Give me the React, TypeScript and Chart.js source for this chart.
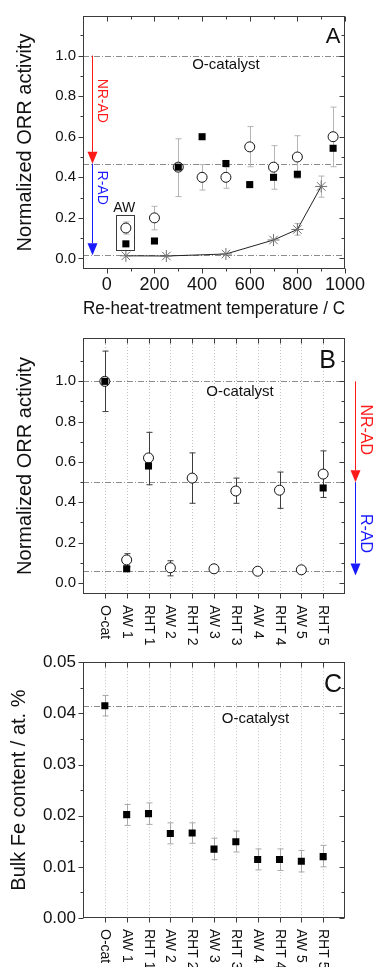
import React, { useEffect, useRef } from 'react';
import { Chart, registerables } from 'chart.js';

Chart.register(...registerables);

const FONT = "'Liberation Sans', Arial, Helvetica, sans-serif";
const INK = '#111';
const FRAME = '#3a3a3a';

// ---- Panel A: activity vs. re-heat-treatment temperature ----
const TEMP_OPEN = [80, 200, 300, 400, 500, 600, 700, 800, 950];
const ORR_OPEN = [0.15, 0.2, 0.45, 0.4, 0.4, 0.55, 0.45, 0.5, 0.6];
const ORR_OPEN_LOW = [0.12, 0.141, 0.305, 0.337, 0.346, 0.452, 0.341, 0.395, 0.452];
const ORR_OPEN_HIGH = [0.18, 0.257, 0.59, 0.463, 0.45, 0.65, 0.556, 0.605, 0.746];
const TEMP_FILLED = [80, 200, 300, 400, 500, 600, 700, 800, 950];
const ORR_FILLED = [0.072, 0.086, 0.45, 0.6, 0.468, 0.364, 0.4, 0.415, 0.543];
const TEMP_STAR = [80, 250, 500, 700, 800, 900];
const ORR_STAR = [0.013, 0.012, 0.022, 0.091, 0.143, 0.355];
const ORR_STAR_LOW = [null, null, null, null, 0.115, 0.302];
const ORR_STAR_HIGH = [null, null, null, null, 0.172, 0.406];
const A_REF_LEVELS = [1.0, 0.467, 0.015];
const A_X_MAJOR = [0, 200, 400, 600, 800, 1000];
const A_X_MINOR = [100, 300, 500, 700, 900];
const A_Y_MAJOR = [0, 0.2, 0.4, 0.6, 0.8, 1.0];
const A_Y_MINOR = [0.1, 0.3, 0.5, 0.7, 0.9, 1.1];

// ---- Panel B: activity per sample ----
const SAMPLES = ['O-cat', 'AW 1', 'RHT 1', 'AW 2', 'RHT 2', 'AW 3', 'RHT 3', 'AW 4', 'RHT 4', 'AW 5', 'RHT 5'];
const ORR_B_OPEN = [1.0, 0.114, 0.62, 0.075, 0.52, 0.07, 0.456, 0.058, 0.46, 0.065, 0.54];
const ORR_B_OPEN_LOW = [0.85, 0.08, 0.487, 0.035, 0.395, 0.062, 0.395, 0.052, 0.37, 0.057, 0.424];
const ORR_B_OPEN_HIGH = [1.15, 0.145, 0.747, 0.11, 0.645, 0.078, 0.52, 0.064, 0.55, 0.073, 0.655];
const ORR_B_FILLED = [1.0, 0.07, 0.58, null, null, null, null, null, null, null, 0.471];
const B_REF_LEVELS = [1.0, 0.5, 0.057];

// ---- Panel C: bulk Fe content per sample ----
const FE_CONTENT = [0.0415, 0.0202, 0.0204, 0.0165, 0.0166, 0.01346, 0.0149, 0.01145, 0.01145, 0.0111, 0.012];
const FE_LOW = [0.0395, 0.0181, 0.0183, 0.0145, 0.0146, 0.0114, 0.0129, 0.0094, 0.0093, 0.009, 0.01];
const FE_HIGH = [0.0435, 0.0222, 0.0225, 0.0186, 0.0186, 0.0156, 0.017, 0.0135, 0.0135, 0.0132, 0.0142];
const C_REF_LEVELS = [0.0415];
const C_Y_MAJOR = [0, 0.01, 0.02, 0.03, 0.04, 0.05];
const C_Y_MINOR = [0.005, 0.015, 0.025, 0.035, 0.045];

const ORR_Y_MAJOR = A_Y_MAJOR;
const ORR_Y_MINOR = A_Y_MINOR;
const SAMPLE_IDX = SAMPLES.map((_, i) => i);

type TextItem = { text: string; x: number; y: number; size: number; color?: string; rotate?: boolean };
type ArrowItem = { x: number; from: number; to: number; color: string };
type Decor = {
  xMajor: number[];
  xMinor: number[];
  xLabels?: number[];
  yMajor: number[];
  yMinor: number[];
  refLines: number[];
  gridX?: number[];
  catLabels?: string[];
  texts: TextItem[];
  arrows: ArrowItem[];
  box?: { x0: number; x1: number; y0: number; y1: number };
};

function makeDecor(cfg: Decor) {
  return {
    id: 'panelDecor',
    beforeDatasetsDraw(chart: any) {
      const { ctx, chartArea: a, scales } = chart;
      const xs = scales.x;
      const ys = scales.y;
      ctx.save();
      if (cfg.gridX) {
        ctx.strokeStyle = '#c4c4c4';
        ctx.lineWidth = 1;
        ctx.setLineDash([1, 2]);
        cfg.gridX.forEach((v) => {
          const px = Math.round(xs.getPixelForValue(v)) + 0.5;
          ctx.beginPath();
          ctx.moveTo(px, a.top);
          ctx.lineTo(px, a.bottom);
          ctx.stroke();
        });
      }
      ctx.strokeStyle = '#8c8c8c';
      ctx.lineWidth = 1;
      ctx.setLineDash([6, 2, 1, 2]);
      cfg.refLines.forEach((v) => {
        const py = Math.round(ys.getPixelForValue(v)) + 0.5;
        ctx.beginPath();
        ctx.moveTo(a.left, py);
        ctx.lineTo(a.right, py);
        ctx.stroke();
      });
      ctx.setLineDash([]);
      chart.data.datasets.forEach((ds: any) => {
        if (!ds.errLow) return;
        ctx.strokeStyle = ds.errColor;
        ctx.lineWidth = 1;
        ds.data.forEach((p: any, i: number) => {
          const lo = ds.errLow[i];
          const hi = ds.errHigh[i];
          if (lo == null || hi == null) return;
          const px = Math.round(xs.getPixelForValue(p.x)) + 0.5;
          const pl = ys.getPixelForValue(lo);
          const ph = ys.getPixelForValue(hi);
          ctx.beginPath();
          ctx.moveTo(px, pl);
          ctx.lineTo(px, ph);
          ctx.moveTo(px - 3, pl);
          ctx.lineTo(px + 3, pl);
          ctx.moveTo(px - 3, ph);
          ctx.lineTo(px + 3, ph);
          ctx.stroke();
        });
      });
      ctx.restore();
    },
    afterDraw(chart: any) {
      const { ctx, chartArea: a, scales } = chart;
      const xs = scales.x;
      const ys = scales.y;
      ctx.save();
      // frame
      ctx.strokeStyle = FRAME;
      ctx.lineWidth = 1;
      const L = Math.round(a.left) + 0.5;
      const R = Math.round(a.right) - 0.5;
      const T = Math.round(a.top) + 0.5;
      const B = Math.round(a.bottom) - 0.5;
      ctx.strokeRect(L, T, R - L, B - T);
      // ticks: left/bottom outward, top/right inward
      const tick = (vals: number[], len: number) => {
        vals.forEach((v) => {
          const px = Math.round(xs.getPixelForValue(v)) + 0.5;
          ctx.beginPath();
          ctx.moveTo(px, B);
          ctx.lineTo(px, B + len);
          ctx.moveTo(px, T);
          ctx.lineTo(px, T + len);
          ctx.stroke();
        });
      };
      const tickY = (vals: number[], len: number) => {
        vals.forEach((v) => {
          const py = Math.round(ys.getPixelForValue(v)) + 0.5;
          ctx.beginPath();
          ctx.moveTo(L, py);
          ctx.lineTo(L - len, py);
          ctx.moveTo(R, py);
          ctx.lineTo(R - len, py);
          ctx.stroke();
        });
      };
      tick(cfg.xMajor, 5);
      tick(cfg.xMinor, 3);
      tickY(cfg.yMajor, 5);
      tickY(cfg.yMinor, 3);

      // numeric x labels
      if (cfg.xLabels) {
        ctx.fillStyle = INK;
        ctx.font = `18px ${FONT}`;
        ctx.textAlign = 'center';
        ctx.textBaseline = 'top';
        cfg.xLabels.forEach((v) => {
          ctx.fillText(String(v), xs.getPixelForValue(v), a.bottom + 7);
        });
      }

      // arrows
      cfg.arrows.forEach((ar) => {
        const px = Math.round(xs.getPixelForValue(ar.x)) + 0.5;
        const p0 = ys.getPixelForValue(ar.from);
        const p1 = ys.getPixelForValue(ar.to);
        const headH = 12;
        const headW = 10;
        ctx.strokeStyle = ar.color;
        ctx.fillStyle = ar.color;
        ctx.lineWidth = 1;
        ctx.beginPath();
        ctx.moveTo(px, p0);
        ctx.lineTo(px, p1 - headH);
        ctx.stroke();
        ctx.beginPath();
        ctx.moveTo(px - headW / 2, p1 - headH);
        ctx.lineTo(px + headW / 2, p1 - headH);
        ctx.lineTo(px, p1);
        ctx.closePath();
        ctx.fill();
      });

      // framed group
      if (cfg.box) {
        const bx0 = Math.round(xs.getPixelForValue(cfg.box.x0)) + 0.5;
        const bx1 = Math.round(xs.getPixelForValue(cfg.box.x1)) + 0.5;
        const by0 = Math.round(ys.getPixelForValue(cfg.box.y0)) + 0.5;
        const by1 = Math.round(ys.getPixelForValue(cfg.box.y1)) + 0.5;
        ctx.strokeStyle = FRAME;
        ctx.strokeRect(bx0, by1, bx1 - bx0, by0 - by1);
      }

      // annotations
      cfg.texts.forEach((t) => {
        const px = xs.getPixelForValue(t.x);
        const py = ys.getPixelForValue(t.y);
        ctx.fillStyle = t.color || INK;
        ctx.font = `${t.size}px ${FONT}`;
        ctx.textAlign = 'center';
        ctx.textBaseline = 'middle';
        ctx.save();
        ctx.translate(px, py);
        if (t.rotate) ctx.rotate(Math.PI / 2);
        ctx.fillText(t.text, 0, 0);
        ctx.restore();
      });

      // rotated category labels
      if (cfg.catLabels) {
        ctx.fillStyle = INK;
        ctx.font = `14px ${FONT}`;
        ctx.textAlign = 'left';
        ctx.textBaseline = 'middle';
        cfg.catLabels.forEach((lab, i) => {
          const px = xs.getPixelForValue(i);
          ctx.save();
          ctx.translate(px, a.bottom + 11);
          ctx.rotate(Math.PI / 2);
          ctx.fillText(lab, 0, 0);
          ctx.restore();
        });
      }
      ctx.restore();
    },
  };
}

function baseOptions(opts: {
  xMin: number;
  xMax: number;
  yMin: number;
  yMax: number;
  padTop: number;
  padRight: number;
  xHeight: number;
  xTitle: string | null;
  yTicks: number[];
  yDigits: number;
  yFont: number;
  yTitle: string;
  yTitlePad: number;
}) {
  return {
    responsive: false,
    maintainAspectRatio: false,
    animation: false,
    events: [],
    layout: { padding: { top: opts.padTop, right: opts.padRight, left: 0, bottom: 0 } },
    plugins: { legend: { display: false }, tooltip: { enabled: false } },
    scales: {
      x: {
        type: 'linear',
        position: 'bottom',
        min: opts.xMin,
        max: opts.xMax,
        grid: { display: false, drawTicks: false },
        border: { display: false },
        afterFit: (s: any) => {
          s.height = opts.xHeight;
        },
        ticks: { display: false },
        title: {
          display: !!opts.xTitle,
          text: opts.xTitle || '',
          color: INK,
          font: { family: FONT, size: 18 },
          padding: { top: 0, bottom: 2 },
        },
      },
      y: {
        type: 'linear',
        min: opts.yMin,
        max: opts.yMax,
        grid: { display: false, drawTicks: false },
        border: { display: false },
        afterBuildTicks: (s: any) => {
          s.ticks = opts.yTicks.map((v) => ({ value: v }));
        },
        afterFit: (s: any) => {
          s.width = 83;
        },
        ticks: {
          padding: 7,
          color: INK,
          font: { family: FONT, size: opts.yFont },
          callback: (v: any) => Number(v).toFixed(opts.yDigits),
        },
        title: {
          display: true,
          text: opts.yTitle,
          color: INK,
          font: { family: FONT, size: 20 },
          padding: { top: opts.yTitlePad, bottom: 0 },
        },
      },
    },
  };
}

const pts = (xs: number[], ys: (number | null)[]) =>
  xs.map((x, i) => ({ x, y: ys[i] })).filter((p) => p.y != null);

function configA(): any {
  return {
    type: 'scatter',
    data: {
      datasets: [
        {
          label: 'filled',
          data: pts(TEMP_FILLED, ORR_FILLED),
          pointStyle: 'rect',
          pointRadius: 5,
          pointBackgroundColor: '#000',
          pointBorderColor: '#000',
          pointBorderWidth: 0,
          showLine: false,
        },
        {
          label: 'open',
          data: pts(TEMP_OPEN, ORR_OPEN),
          pointStyle: 'circle',
          pointRadius: 5,
          pointBackgroundColor: '#fff',
          pointBorderColor: '#111',
          pointBorderWidth: 1,
          showLine: false,
          errLow: ORR_OPEN_LOW,
          errHigh: ORR_OPEN_HIGH,
          errColor: '#b4b4b4',
        },
        {
          label: 'star',
          data: pts(TEMP_STAR, ORR_STAR),
          showLine: true,
          borderColor: '#222',
          borderWidth: 1,
          pointStyle: 'star',
          pointRadius: 6,
          pointBorderColor: '#6e6e6e',
          pointBackgroundColor: '#6e6e6e',
          pointBorderWidth: 1,
          errLow: ORR_STAR_LOW,
          errHigh: ORR_STAR_HIGH,
          errColor: '#b4b4b4',
        },
      ],
    },
    options: baseOptions({
      xMin: -100,
      xMax: 1000,
      yMin: -0.052,
      yMax: 1.195,
      padTop: 13,
      padRight: 30,
      xHeight: 53,
      xTitle: 'Re-heat-treatment temperature / C',
      yTicks: A_Y_MAJOR,
      yDigits: 1,
      yFont: 15,
      yTitle: 'Normalized ORR activity',
      yTitlePad: 13,
    }),
    plugins: [
      makeDecor({
        xMajor: A_X_MAJOR,
        xMinor: A_X_MINOR,
        xLabels: A_X_MAJOR,
        yMajor: A_Y_MAJOR,
        yMinor: A_Y_MINOR,
        refLines: A_REF_LEVELS,
        texts: [
          { text: 'O-catalyst', x: 500, y: 0.953, size: 15 },
          { text: 'A', x: 950, y: 1.09, size: 22 },
          { text: 'NR-AD', x: -22, y: 0.777, size: 14, color: '#ff1a1a', rotate: true },
          { text: 'R-AD', x: -22, y: 0.349, size: 14, color: '#1a1aff', rotate: true },
          { text: 'AW', x: 73, y: 0.25, size: 14 },
        ],
        arrows: [
          { x: -62, from: 1.0, to: 0.467, color: '#ff1a1a' },
          { x: -62, from: 0.467, to: 0.016, color: '#1a1aff' },
        ],
        box: { x0: 36.5, x1: 114.7, y0: 0.044, y1: 0.216 },
      }),
    ],
  };
}

function configB(): any {
  return {
    type: 'scatter',
    data: {
      datasets: [
        {
          label: 'filled',
          data: pts(SAMPLE_IDX, ORR_B_FILLED),
          pointStyle: 'rect',
          pointRadius: 5,
          pointBackgroundColor: '#000',
          pointBorderColor: '#000',
          pointBorderWidth: 0,
          showLine: false,
        },
        {
          label: 'open',
          data: pts(SAMPLE_IDX, ORR_B_OPEN),
          pointStyle: 'circle',
          pointRadius: 5,
          pointBackgroundColor: '#fff',
          pointBorderColor: '#111',
          pointBorderWidth: 1,
          showLine: false,
          errLow: ORR_B_OPEN_LOW,
          errHigh: ORR_B_OPEN_HIGH,
          errColor: '#3c3c3c',
        },
      ],
    },
    options: baseOptions({
      xMin: -1,
      xMax: 11,
      yMin: -0.055,
      yMax: 1.215,
      padTop: 11,
      padRight: 30,
      xHeight: 58,
      xTitle: null,
      yTicks: ORR_Y_MAJOR,
      yDigits: 1,
      yFont: 15,
      yTitle: 'Normalized ORR activity',
      yTitlePad: 13,
    }),
    plugins: [
      makeDecor({
        xMajor: SAMPLE_IDX,
        xMinor: [],
        yMajor: ORR_Y_MAJOR,
        yMinor: ORR_Y_MINOR,
        refLines: B_REF_LEVELS,
        gridX: SAMPLE_IDX,
        catLabels: SAMPLES,
        texts: [
          { text: 'O-catalyst', x: 6.19, y: 0.947, size: 15 },
          { text: 'B', x: 10.2, y: 1.1, size: 25 },
          { text: 'NR-AD', x: 11.92, y: 0.76, size: 16, color: '#ff1a1a', rotate: true },
          { text: 'R-AD', x: 11.92, y: 0.245, size: 16, color: '#1a1aff', rotate: true },
        ],
        arrows: [
          { x: 11.46, from: 1.0, to: 0.5, color: '#ff1a1a' },
          { x: 11.46, from: 0.5, to: 0.037, color: '#1a1aff' },
        ],
      }),
    ],
  };
}

function configC(): any {
  return {
    type: 'scatter',
    data: {
      datasets: [
        {
          label: 'fe',
          data: pts(SAMPLE_IDX, FE_CONTENT),
          pointStyle: 'rect',
          pointRadius: 5,
          pointBackgroundColor: '#000',
          pointBorderColor: '#000',
          pointBorderWidth: 0,
          showLine: false,
          errLow: FE_LOW,
          errHigh: FE_HIGH,
          errColor: '#a8a8a8',
        },
      ],
    },
    options: baseOptions({
      xMin: -1,
      xMax: 11,
      yMin: 0,
      yMax: 0.05,
      padTop: 15,
      padRight: 30,
      xHeight: 49,
      xTitle: null,
      yTicks: C_Y_MAJOR,
      yDigits: 2,
      yFont: 17,
      yTitle: 'Bulk Fe content / at. %',
      yTitlePad: 7,
    }),
    plugins: [
      makeDecor({
        xMajor: SAMPLE_IDX,
        xMinor: [],
        yMajor: C_Y_MAJOR,
        yMinor: C_Y_MINOR,
        refLines: C_REF_LEVELS,
        gridX: SAMPLE_IDX,
        catLabels: SAMPLES,
        texts: [
          { text: 'O-catalyst', x: 6.9, y: 0.0389, size: 15 },
          { text: 'C', x: 10.45, y: 0.0456, size: 25 },
        ],
        arrows: [],
      }),
    ],
  };
}

export default function App() {
  const aRef = useRef<HTMLCanvasElement>(null);
  const bRef = useRef<HTMLCanvasElement>(null);
  const cRef = useRef<HTMLCanvasElement>(null);

  useEffect(() => {
    document.body.style.margin = '0';
    const charts = [
      new Chart(cRef.current as HTMLCanvasElement, configC()),
      new Chart(bRef.current as HTMLCanvasElement, configB()),
      new Chart(aRef.current as HTMLCanvasElement, configA()),
    ];
    return () => charts.forEach((c) => c.destroy());
  }, []);

  const pos = (top: number) => ({ position: 'absolute' as const, left: 0, top });

  return (
    <div
      style={{
        position: 'absolute',
        left: 0,
        top: 0,
        width: 375,
        height: 967,
        background: '#fff',
        overflow: 'hidden',
      }}
    >
      <canvas ref={cRef} width={375} height={322} style={pos(645)} />
      <canvas ref={bRef} width={375} height={330} style={pos(322)} />
      <canvas ref={aRef} width={375} height={322} style={pos(0)} />
    </div>
  );
}
